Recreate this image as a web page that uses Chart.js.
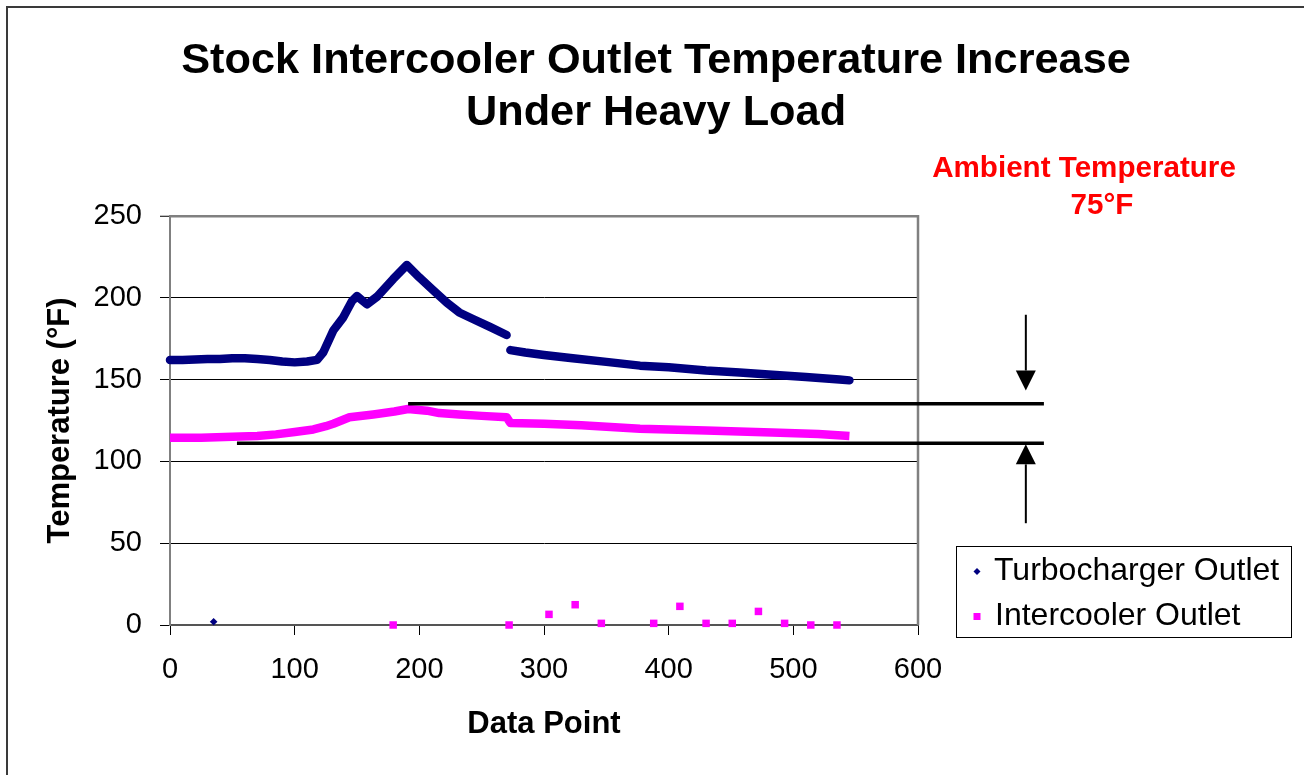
<!DOCTYPE html>
<html>
<head>
<meta charset="utf-8">
<script src="https://cdn.jsdelivr.net/npm/chart.js@4.4.0/dist/chart.umd.min.js"></script>
<style>
html,body{margin:0;padding:0;background:#fff;}
#wrap{width:1304px;height:775px;position:relative;}
</style>
</head>
<body>
<div id="wrap"><canvas id="c" width="1304" height="775"></canvas></div>
<script>
// ---------- text ----------
const titleLines = ['Stock Intercooler Outlet Temperature Increase', 'Under Heavy Load'];
const xAxisTitle = 'Data Point';
const yAxisTitle = 'Temperature (°F)';
const seriesNames = ['Turbocharger Outlet', 'Intercooler Outlet'];
const ambientLines = ['Ambient Temperature', '75°F'];

// ---------- ticks ----------
const xTickValues = [0, 100, 200, 300, 400, 500, 600];
const yTickValues = [0, 50, 100, 150, 200, 250];

// ---------- series: Turbocharger Outlet (null = gap in logging) ----------
const turboX = [0, 10, 20, 30, 40, 50, 60, 70, 80, 90, 100, 110, 118, 123, 131, 139, 146, 150, 154, 158, 166, 179, 190, 200, 211, 222, 232, 243, 257, 270, 272, 273, 285, 300, 323, 350, 377, 400, 430, 457, 483, 510, 537, 545];
const turboY = [162, 162, 162.3, 162.5, 162.5, 163, 163, 162.5, 162, 161, 160.5, 161, 162, 166.7, 180, 188, 198, 201, 198.5, 196, 200.6, 211.4, 220, 212.4, 204.7, 197, 191, 187, 182, 177.2, null, 168, 166.5, 165, 163, 160.8, 158.5, 157.5, 155.5, 154.3, 153, 151.5, 150, 149.5];

// ---------- series: Intercooler Outlet ----------
const interX = [0, 25, 50, 70, 85, 100, 115, 125, 131, 144, 163, 180, 191, 206, 216, 232, 250, 270, 273, 300, 330, 377, 430, 483, 520, 545];
const interY = [114.5, 114.5, 115, 115.5, 116.5, 118, 119.5, 121.5, 123, 127, 128.7, 130.5, 132, 131, 129.5, 128.7, 127.8, 127, 123.5, 123, 122, 120, 118.8, 117.7, 116.7, 115.5];

// ---------- stray readings near zero ----------
const turboStrayX = [35];
const turboStrayY = [2];
const interStrayX = [179, 272, 304, 325, 346, 388, 409, 430, 451, 472, 493, 514, 535];
const interStrayY = [0, 0, 6.5, 12.4, 1, 1, 11.4, 1, 1, 8.3, 1, 0, 0];

// ---------- annotation (data units) ----------
const upperBracket = {x0: 191, x1: 701, y: 135.2};
const lowerBracket = {x0: 53.7, x1: 701, y: 111.0};
const arrowX = 686.5;
const downArrow = {from: 189.6, to: 143.3};
const upArrow = {from: 62.2, to: 110.4};

// ---------- styling ----------
const FONT = "'Liberation Sans', Arial, Helvetica, sans-serif";
const NAVY = '#000080';
const MAGENTA = '#FF00FF';
const GRAY = '#808080';

const zip = (xs, ys) => xs.map((x, i) => ({x: x, y: ys[i]}));

const decor = {
  id: 'decor',
  beforeDraw(chart) {
    const c = chart.ctx;
    c.save();
    c.fillStyle = '#fff';
    c.fillRect(0, 0, chart.width, chart.height);
    c.strokeStyle = '#3a3a3a';
    c.lineWidth = 2;
    c.beginPath();
    c.moveTo(7, chart.height);
    c.lineTo(7, 7);
    c.lineTo(chart.width, 7);
    c.stroke();
    c.restore();
  },
  afterDraw(chart) {
    const c = chart.ctx;
    const xs = chart.scales.x, ys = chart.scales.y;
    const a = chart.chartArea;
    c.save();
    // right border of plot area
    c.strokeStyle = GRAY;
    c.lineWidth = 2.5;
    c.beginPath();
    c.moveTo(a.right, a.top - 1);
    c.lineTo(a.right, a.bottom);
    c.stroke();

    // bracket lines
    c.strokeStyle = '#000';
    c.lineWidth = 3.5;
    [upperBracket, lowerBracket].forEach(b => {
      const y = ys.getPixelForValue(b.y);
      c.beginPath();
      c.moveTo(xs.getPixelForValue(b.x0), y);
      c.lineTo(xs.getPixelForValue(b.x1), y);
      c.stroke();
    });

    // arrows
    const ax = xs.getPixelForValue(arrowX);
    const drawArrow = (fromV, toV) => {
      const y0 = ys.getPixelForValue(fromV);
      const y1 = ys.getPixelForValue(toV);
      const dir = y1 > y0 ? 1 : -1;
      const head = 20, half = 10;
      c.strokeStyle = '#000';
      c.lineWidth = 2;
      c.beginPath();
      c.moveTo(ax, y0);
      c.lineTo(ax, y1 - dir * head);
      c.stroke();
      c.fillStyle = '#000';
      c.beginPath();
      c.moveTo(ax, y1);
      c.lineTo(ax - half, y1 - dir * head);
      c.lineTo(ax + half, y1 - dir * head);
      c.closePath();
      c.fill();
    };
    drawArrow(downArrow.from, downArrow.to);
    drawArrow(upArrow.from, upArrow.to);

    // ambient temperature note
    c.fillStyle = '#FF0000';
    c.font = 'bold 29.6px ' + FONT;
    c.textAlign = 'center';
    c.textBaseline = 'alphabetic';
    c.fillText(ambientLines[0], 1084, 177);
    c.fillText(ambientLines[1], 1102, 214);

    // legend
    c.strokeStyle = '#000';
    c.lineWidth = 1;
    c.strokeRect(956.5, 546.5, 335, 91);
    c.fillStyle = NAVY;
    c.beginPath();
    c.moveTo(977, 568);
    c.lineTo(980.5, 571.5);
    c.lineTo(977, 575);
    c.lineTo(973.5, 571.5);
    c.closePath();
    c.fill();
    c.fillStyle = MAGENTA;
    c.fillRect(973.5, 613, 7, 7);
    c.fillStyle = '#000';
    c.font = '32px ' + FONT;
    c.textAlign = 'left';
    c.textBaseline = 'middle';
    c.fillText(seriesNames[0], 994, 571);
    c.fillText(seriesNames[1], 995, 616);
    c.restore();
  }
};

new Chart(document.getElementById('c').getContext('2d'), {
  type: 'scatter',
  data: {
    datasets: [
      {
        label: seriesNames[0],
        data: zip(turboX, turboY),
        showLine: true,
        spanGaps: false,
        borderColor: NAVY,
        backgroundColor: NAVY,
        borderWidth: 8.5,
        borderCapStyle: 'round',
        borderJoinStyle: 'round',
        pointRadius: 0,
        clip: false
      },
      {
        label: seriesNames[1],
        data: zip(interX, interY),
        showLine: true,
        borderColor: MAGENTA,
        backgroundColor: MAGENTA,
        borderWidth: 8.5,
        borderCapStyle: 'butt',
        borderJoinStyle: 'round',
        pointRadius: 0,
        clip: false
      },
      {
        label: seriesNames[0] + ' (stray)',
        data: zip(turboStrayX, turboStrayY),
        showLine: false,
        pointStyle: 'rectRot',
        pointRadius: 3.8,
        pointBorderWidth: 0,
        backgroundColor: NAVY,
        borderColor: NAVY,
        clip: false
      },
      {
        label: seriesNames[1] + ' (stray)',
        data: zip(interStrayX, interStrayY),
        showLine: false,
        pointStyle: 'rect',
        pointRadius: 5.3,
        pointBorderWidth: 0,
        backgroundColor: MAGENTA,
        borderColor: MAGENTA,
        clip: false
      }
    ]
  },
  options: {
    responsive: false,
    animation: false,
    devicePixelRatio: 1,
    events: [],
    layout: {padding: {left: 8, right: 0, top: 0, bottom: 0}},
    plugins: {
      legend: {display: false},
      tooltip: {enabled: false},
      title: {
        display: true,
        text: titleLines,
        color: '#000',
        font: {family: FONT, size: 43.3, weight: 'bold', lineHeight: 1.2},
        padding: {top: 35, bottom: 77}
      }
    },
    scales: {
      x: {
        type: 'linear',
        position: 'bottom',
        min: 0, max: 600,
        afterBuildTicks: s => { s.ticks = xTickValues.map(v => ({value: v})); },
        afterFit: s => { s.height = 150; },
        ticks: {color: '#000', font: {family: FONT, size: 29}, padding: 18, maxRotation: 0, autoSkip: false},
        grid: {drawOnChartArea: false, drawTicks: true, tickLength: 10, tickColor: '#000', tickWidth: 1},
        border: {color: '#555', width: 2},
        title: {display: true, text: xAxisTitle, color: '#000', font: {family: FONT, size: 31, weight: 'bold'}, padding: {top: 0, bottom: 32}}
      },
      y: {
        type: 'linear',
        position: 'left',
        min: 0, max: 250,
        afterBuildTicks: s => { s.ticks = yTickValues.map(v => ({value: v})); },
        afterFit: s => { s.width = 162; },
        ticks: {color: '#000', font: {family: FONT, size: 29}, padding: 18},
        grid: {
          color: ctx => (ctx.tick && ctx.tick.value === 250) ? GRAY : '#000',
          lineWidth: ctx => (ctx.tick && ctx.tick.value === 250) ? 2.5 : 1,
          tickLength: 10, tickColor: '#000', tickWidth: 1
        },
        border: {color: GRAY, width: 2},
        title: {display: true, text: yAxisTitle, color: '#000', font: {family: FONT, size: 31, weight: 'bold'}, padding: {top: 34, bottom: 0}}
      },
      yRight: {
        type: 'linear',
        position: 'right',
        display: true,
        min: 0, max: 1,
        ticks: {display: false},
        grid: {display: false, drawTicks: false},
        border: {display: false},
        afterFit: s => { s.width = 386; }
      }
    }
  },
  plugins: [decor]
});
</script>
</body>
</html>
